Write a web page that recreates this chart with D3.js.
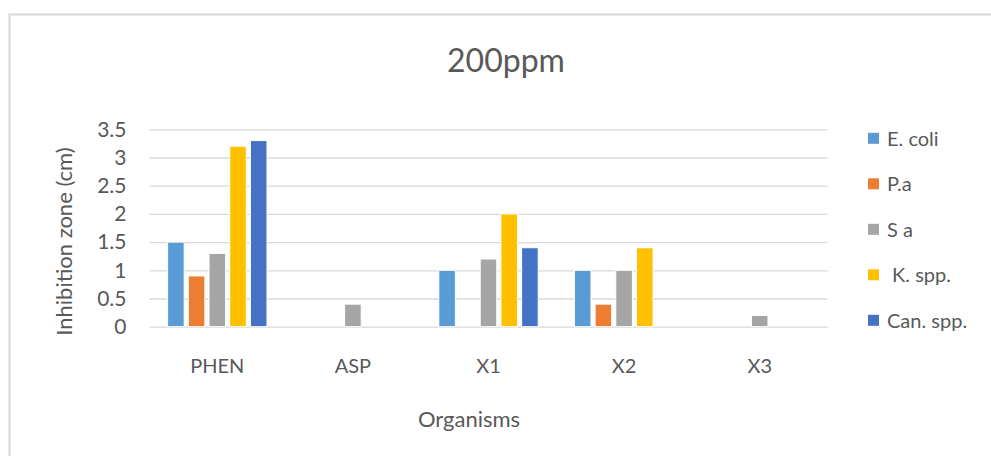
<!DOCTYPE html>
<html>
<head>
<meta charset="utf-8">
<script src="https://cdn.jsdelivr.net/npm/d3@7"></script>
<style>
  html, body { margin: 0; padding: 0; background: #fff; }
  svg { display: block; }
  text { font-family: Lato, "Open Sans", sans-serif; fill: #595959; }
</style>
</head>
<body>
<svg id="chart" width="991" height="456"></svg>
<script>
const categories = ["PHEN", "ASP", "X1", "X2", "X3"];
const seriesNames = ["E. coli", "P.a", "S a", " K. spp.", "Can. spp."];
const seriesColors = ["#5B9BD5", "#ED7D31", "#A5A5A5", "#FFC000", "#4472C4"];
const eColi   = [1.5, null, 1.0, 1.0, null];
const pA      = [0.9, null, null, 0.4, null];
const sA      = [1.3, 0.4, 1.2, 1.0, 0.2];
const kSpp    = [3.2, null, 2.0, 1.4, null];
const canSpp  = [3.3, null, 1.4, null, null];
const seriesValues = [eColi, pA, sA, kSpp, canSpp];
const yTicks = [0, 0.5, 1, 1.5, 2, 2.5, 3, 3.5];
const yTickLabels = ["0", "0.5", "1", "1.5", "2", "2.5", "3", "3.5"];
const title = "200ppm";
const xTitle = "Organisms";
const yTitle = "Inhibition zone (cm)";

const svg = d3.select("#chart");

// chart border
svg.append("rect")
  .attr("x", 9.5).attr("y", 14.5)
  .attr("width", 1000).attr("height", 500)
  .attr("fill", "none").attr("stroke", "#d9d9d9").attr("stroke-width", 2);

const plot = { left: 149.5, right: 827.5, top: 129.3, bottom: 326.7 };

const x0 = d3.scaleBand().domain(categories).range([plot.left, plot.right]).paddingInner(0).paddingOuter(0);
const x1 = d3.scaleBand().domain(seriesNames).range([0, x0.bandwidth()]).paddingInner(0.2).paddingOuter(0.875);
const y = d3.scaleLinear().domain([0, 3.5]).range([plot.bottom, plot.top]);

// gridlines
const yAxis = d3.axisLeft(y).tickValues(yTicks).tickFormat((d, i) => yTickLabels[i])
  .tickSize(-(plot.right - plot.left)).tickPadding(23);
const gy = svg.append("g").attr("transform", `translate(${plot.left},0)`).call(yAxis);
gy.select(".domain").remove();
gy.selectAll(".tick line").attr("stroke", "#d9d9d9").attr("stroke-width", 1.3);
gy.selectAll(".tick text").attr("font-size", 21).attr("fill", "#595959")
  .style("font-family", "Lato, sans-serif");

// bars
seriesNames.forEach((s, si) => {
  const data = categories.map((c, ci) => ({ c, v: seriesValues[si][ci] })).filter(d => d.v != null);
  svg.append("g").selectAll("rect").data(data).join("rect")
    .attr("x", d => x0(d.c) + x1(s))
    .attr("y", d => y(d.v))
    .attr("width", x1.bandwidth())
    .attr("height", d => y(0) - y(d.v))
    .attr("fill", seriesColors[si])
    .attr("stroke", "#ffffff").attr("stroke-width", 1);
});

// x axis labels
const xAxis = d3.axisBottom(x0).tickSize(0).tickPadding(0);
const gx = svg.append("g").attr("transform", `translate(0,${plot.bottom})`).call(xAxis);
gx.select(".domain").remove();
gx.selectAll(".tick text").attr("font-size", 20).attr("fill", "#595959")
  .attr("y", 46).attr("dy", 0)
  .style("font-family", "Lato, sans-serif");

// title
svg.append("text").attr("x", 506).attr("y", 71.5).attr("text-anchor", "middle")
  .attr("font-size", 32).text(title);

// axis titles
svg.append("text").attr("x", 469).attr("y", 426.5).attr("text-anchor", "middle")
  .attr("font-size", 22).text(xTitle);
svg.append("text").attr("transform", "translate(72,241.5) rotate(-90)").attr("text-anchor", "middle")
  .attr("font-size", 22).text(yTitle);

// legend
const legend = svg.append("g");
seriesNames.forEach((s, i) => {
  const cy = 138.3 + i * 45.5;
  legend.append("rect").attr("x", 868).attr("y", cy - 5.5).attr("width", 11).attr("height", 11)
    .attr("fill", seriesColors[i]);
  legend.append("text").attr("x", 887).attr("y", cy + 7.5).attr("font-size", 20)
    .attr("xml:space", "preserve").style("white-space", "pre").text(s);
});
</script>
</body>
</html>
